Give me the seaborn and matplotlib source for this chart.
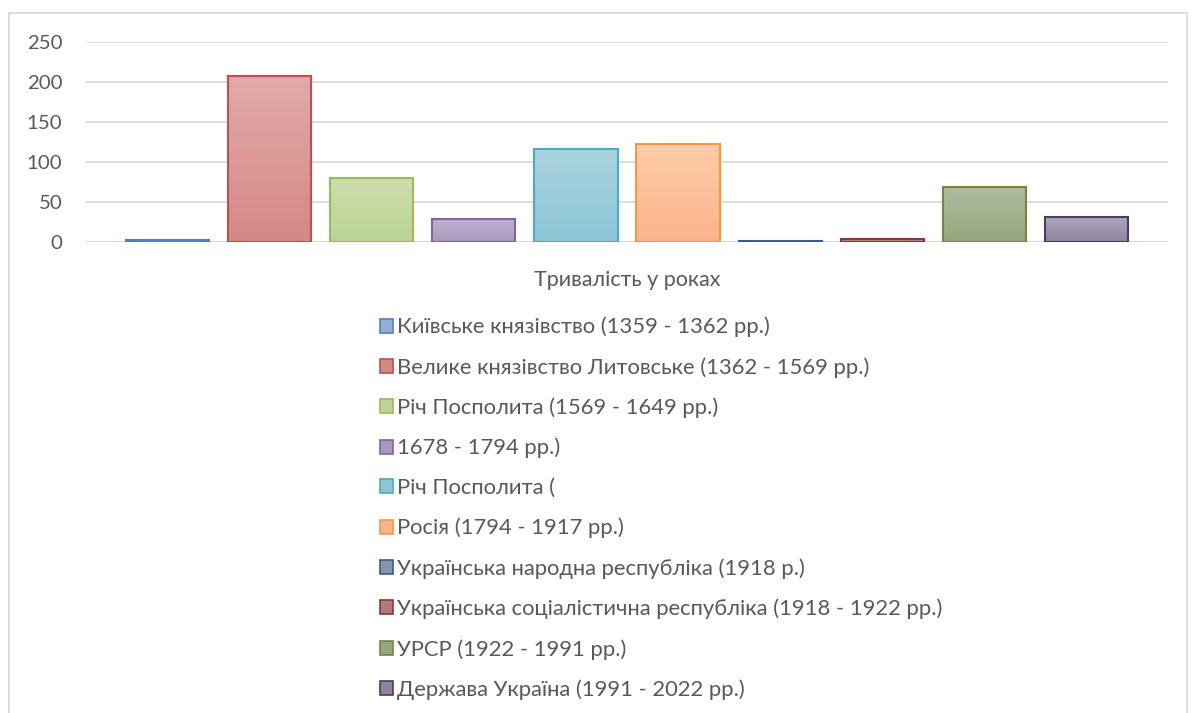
import numpy as np
import pandas as pd
import seaborn as sns
import matplotlib.pyplot as plt
from matplotlib.patches import Patch
from matplotlib.colors import to_rgb

# Data
category = 'Тривалість у роках'
periods = [
    'Київське князівство (1359 - 1362 pp.)',
    'Велике князівство Литовське (1362 - 1569 pp.)',
    'Річ Посполита (1569 - 1649 pp.)',
    '1678 - 1794 pp.)',
    'Річ Посполита (',
    'Росія (1794 - 1917 pp.)',
    'Українська народна республіка (1918 p.)',
    'Українська соціалістична республіка (1918 - 1922 pp.)',
    'УРСР (1922 - 1991 pp.)',
    'Держава Україна (1991 - 2022 pp.)',
]
years = [3, 207, 80, 29, 116, 123, 1, 4, 69, 31]

# Styles (Excel-like gradient fills)
edge_colors = ['#4F81BD', '#C0504D', '#9BBB59', '#8064A2', '#4BACC6',
               '#F79646', '#385D8A', '#8C3836', '#71893F', '#4D3B62']
top_colors = ['#B0C4E2', '#E0AAA9', '#CEDDAC', '#BDB2CF', '#AAD2DF',
              '#FCCCA9', '#A3AFC2', '#C9A3A2', '#B0BC9E', '#ACA6B8']
bottom_colors = ['#93AED6', '#D58886', '#BBD396', '#A997C0', '#8CC5D6',
                 '#FAB48A', '#8595AD', '#B07C7B', '#97A57E', '#8F849E']

df = pd.DataFrame({'cat': [category] * len(years), 'period': periods, 'years': years})

fig = plt.figure(figsize=(11.96, 7.13), dpi=100)
plt.rcParams['font.family'] = ['Lato', 'DejaVu Sans']
ax = fig.add_axes([86 / 1196, 1 - 242 / 713, (1168 - 86) / 1196, 200 / 713])

sns.barplot(data=df, x='cat', y='years', hue='period', hue_order=periods,
            palette=['none'] * len(periods), width=0.943, gap=0.186,
            legend=False, ax=ax, zorder=3)

for i, cont in enumerate(ax.containers):
    for bar in cont:
        bar.set_facecolor('none')
        bar.set_edgecolor(edge_colors[i])
        bar.set_linewidth(1.5)
        bar.set_zorder(4)
        x0, y0 = bar.get_x(), bar.get_y()
        w, h = bar.get_width(), bar.get_height()
        grad = np.linspace(0, 1, 64)[:, None, None]
        c1 = np.array(to_rgb(top_colors[i]))
        c2 = np.array(to_rgb(bottom_colors[i]))
        img = c1 * (1 - grad) + c2 * grad
        im = ax.imshow(img, extent=[x0, x0 + w, y0, y0 + h], origin='upper',
                       aspect='auto', zorder=3, interpolation='bilinear')
        im.set_clip_path(bar)

ax.set_xlim(-0.5, 0.5)
ax.set_ylim(0, 250)
ax.set_yticks([0, 50, 100, 150, 200, 250])
ax.grid(axis='y', color='#D9D9D9', linewidth=1.2, zorder=0)
ax.set_axisbelow(True)
for s in ['top', 'right', 'left', 'bottom']:
    ax.spines[s].set_visible(False)
ax.axhline(0, color='#D9D9D9', linewidth=1.5, zorder=2)
ax.tick_params(axis='y', length=0, pad=17, labelsize=14.7, labelcolor='#595959')
ax.tick_params(axis='x', length=0, pad=20, labelsize=15.5, labelcolor='#595959')
ax.set_xlabel('')
ax.set_ylabel('')

handles = [Patch(facecolor=bottom_colors[i], edgecolor=edge_colors[i], linewidth=1.2)
           for i in range(len(periods))]
fig.legend(handles, periods, loc='upper left', bbox_to_anchor=(371 / 1196, 1 - 308 / 713),
           frameon=False, fontsize=15.8, labelcolor='#595959', handlelength=0.6,
           handleheight=0.6, handletextpad=0.2, labelspacing=0.9, borderaxespad=0)

# chart frame
fig.add_artist(plt.Line2D([9 / 1196, 9 / 1196], [0, 1 - 13 / 713], color='#D9D9D9', lw=1.2))
fig.add_artist(plt.Line2D([9 / 1196, 1187 / 1196], [1 - 13 / 713, 1 - 13 / 713], color='#D9D9D9', lw=1.2))
fig.add_artist(plt.Line2D([1187 / 1196, 1187 / 1196], [0, 1 - 13 / 713], color='#D9D9D9', lw=1.2))

fig.savefig('out.png', dpi=100)
